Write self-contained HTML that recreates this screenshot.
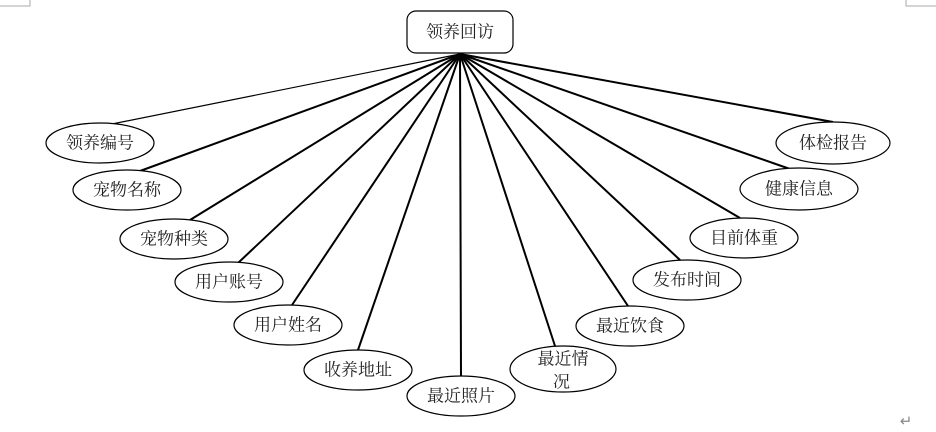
<!DOCTYPE html>
<html><head><meta charset="utf-8"><style>
body{margin:0;background:#fff;}
svg{display:block}
text{font-family:"Liberation Serif","Noto Serif CJK SC","Noto Sans CJK SC",serif;font-size:17px;fill:#222;text-anchor:middle;dominant-baseline:central}
</style></head><body>
<svg width="936" height="432" viewBox="0 0 936 432" xmlns="http://www.w3.org/2000/svg">
<g stroke="#aaa" stroke-width="1" fill="none">
<path d="M30 0 V6 H0"/><path d="M906 0 V6 H936"/>
</g>
<g stroke="#000" stroke-width="2" fill="none">
<line x1="460" y1="54" x2="112" y2="124" stroke-width="1.2"/>
<line x1="460" y1="54" x2="140" y2="171"/>
<line x1="460" y1="54" x2="190" y2="220"/>
<line x1="460" y1="54" x2="238" y2="263"/>
<line x1="460" y1="54" x2="292" y2="305"/>
<line x1="460" y1="54" x2="358" y2="350"/>
<line x1="460" y1="54" x2="461" y2="376"/>
<line x1="460" y1="54" x2="555" y2="346"/>
<line x1="460" y1="54" x2="628" y2="306"/>
<line x1="460" y1="54" x2="680" y2="260"/>
<line x1="460" y1="54" x2="740" y2="218"/>
<line x1="460" y1="54" x2="790" y2="169"/>
<line x1="460" y1="54" x2="833" y2="122"/>
</g>
<rect x="407" y="11" width="106" height="42" rx="9" fill="#fff" stroke="#000" stroke-width="1.2"/>
<text x="460" y="32">领养回访</text>
<g fill="#fff" stroke="#000" stroke-width="1.2">
<ellipse cx="100" cy="143" rx="54" ry="20"/>
<ellipse cx="127" cy="190" rx="54" ry="20"/>
<ellipse cx="174" cy="239" rx="54" ry="20"/>
<ellipse cx="229" cy="282" rx="54" ry="20"/>
<ellipse cx="288" cy="325" rx="54" ry="20"/>
<ellipse cx="358" cy="370" rx="54" ry="20"/>
<ellipse cx="461" cy="396" rx="54" ry="20"/>
<ellipse cx="563" cy="369" rx="53" ry="23"/>
<ellipse cx="630" cy="326" rx="54" ry="20"/>
<ellipse cx="687" cy="280" rx="54" ry="20"/>
<ellipse cx="744" cy="238" rx="54" ry="20"/>
<ellipse cx="799" cy="189" rx="59" ry="21"/>
<ellipse cx="833" cy="143" rx="57" ry="21"/>
</g>
<text x="100" y="143">领养编号</text>
<text x="127" y="190">宠物名称</text>
<text x="174" y="239">宠物种类</text>
<text x="229" y="282">用户账号</text>
<text x="288" y="325">用户姓名</text>
<text x="358" y="370">收养地址</text>
<text x="461" y="396">最近照片</text>
<text x="563" y="359">最近情</text>
<text x="563" y="382" style="text-anchor:start" dx="-10">况</text>
<text x="630" y="326">最近饮食</text>
<text x="687" y="280">发布时间</text>
<text x="744" y="238">目前体重</text>
<text x="799" y="189">健康信息</text>
<text x="833" y="143">体检报告</text>
<text x="906" y="422" style="font-size:15px;fill:#888">↵</text>
</svg>
</body></html>
